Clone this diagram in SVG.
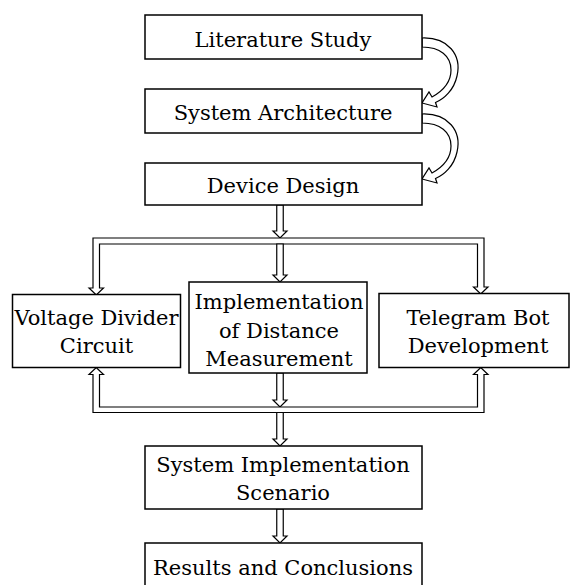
<svg xmlns="http://www.w3.org/2000/svg" xmlns:xlink="http://www.w3.org/1999/xlink" width="570" height="585" viewBox="0 0 570 585">
  <style>
    .box { fill:#fff; stroke:#000; stroke-width:1.5; }
    .arw { fill:#fff; stroke:#000; stroke-width:1.2; stroke-linejoin:miter; }
    text { font-family:"DejaVu Serif","Liberation Serif",serif; font-size:21px; text-anchor:middle; fill:#000; }
  </style>
  <defs>
    <!-- hollow curved arrow bending round the right side of a box -->
    <path id="curl" d="M422,38 C448,37 462,55 457,76 C454,90 444,99 435.5,102.5 L437,107 L422,103 L429,92 L432,97 C441,92 451,83 451,70 C451,56 440,47 422,47 Z"/>
  </defs>
  <rect width="570" height="585" fill="#fff"/>

  <g id="connectors">
    <use xlink:href="#curl" class="arw"/>
    <use xlink:href="#curl" class="arw" transform="translate(0,76)"/>
    <!-- Device Design to upper bus -->
    <path class="arw" d="M276.75,205 V231 H273 L280,238 L287,231 H283.25 V205 Z"/>
    <!-- upper bus with drops to the side boxes -->
    <path class="arw" d="M93,238 H484 V287 H488 L480.75,294 L473.5,287 H477.5 V244 H99.5 V288 H103.5 L96.25,295 L89,288 H93 Z"/>
    <!-- upper bus to middle box -->
    <path class="arw" d="M276.75,244 V275 H273 L280,282 L287,275 H283.25 V244 Z"/>
    <!-- middle box to lower bus -->
    <path class="arw" d="M276.75,373 V400 H273 L280,407 L287,400 H283.25 V373 Z"/>
    <!-- lower bus with risers to the side boxes -->
    <path class="arw" d="M93,412.5 H484 V374.5 H488 L480.75,367.5 L473.5,374.5 H477.5 V407 H99.5 V374.5 H103.5 L96.25,367.5 L89,374.5 H93 Z"/>
    <!-- lower bus to scenario -->
    <path class="arw" d="M276.75,412.5 V439 H273 L280,446 L287,439 H283.25 V412.5 Z"/>
    <!-- scenario to results -->
    <path class="arw" d="M276.75,509 V536 H273 L280,543 L287,536 H283.25 V509 Z"/>
  </g>

  <g id="literature">
    <rect class="box" x="145" y="15" width="277" height="44"/>
    <text x="283" y="46.5">Literature Study</text>
  </g>
  <g id="architecture">
    <rect class="box" x="145" y="89" width="277" height="44"/>
    <text x="283" y="119.5">System Architecture</text>
  </g>
  <g id="device">
    <rect class="box" x="145" y="163" width="277" height="42"/>
    <text x="283" y="193">Device Design</text>
  </g>
  <g id="voltage">
    <rect class="box" x="12.5" y="294.5" width="168" height="73"/>
    <text x="96.5" y="325">Voltage Divider</text>
    <text x="96.5" y="353">Circuit</text>
  </g>
  <g id="distance">
    <rect class="box" x="189" y="282" width="178" height="91"/>
    <text x="279" y="309">Implementation</text>
    <text x="279" y="337.5">of Distance</text>
    <text x="279" y="366">Measurement</text>
  </g>
  <g id="telegram">
    <rect class="box" x="379" y="293.5" width="190" height="74"/>
    <text x="478" y="325">Telegram Bot</text>
    <text x="478" y="353">Development</text>
  </g>
  <g id="scenario">
    <rect class="box" x="145" y="446" width="277" height="63"/>
    <text x="283" y="472">System Implementation</text>
    <text x="283" y="500">Scenario</text>
  </g>
  <g id="results">
    <rect class="box" x="145" y="543" width="277" height="50"/>
    <text x="283" y="575">Results and Conclusions</text>
  </g>
</svg>
